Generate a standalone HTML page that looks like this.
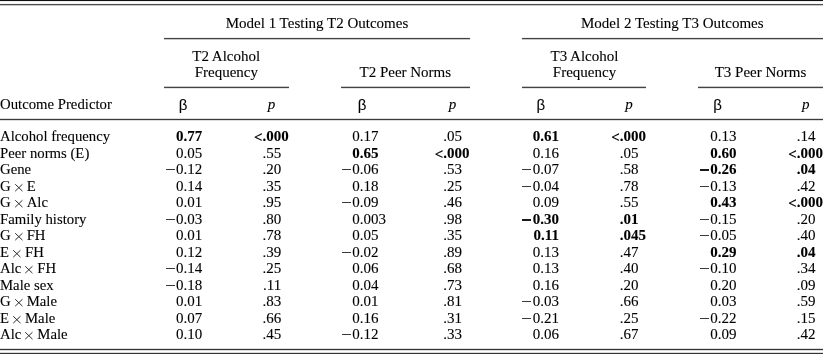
<!DOCTYPE html>
<html><head><meta charset="utf-8"><style>
html,body{margin:0;padding:0;background:#fff;}
#w{position:relative;will-change:transform;-webkit-text-stroke:0.1px #000;width:823px;height:354px;overflow:hidden;background:#fff;font-family:"Liberation Serif",serif;font-size:15px;color:#000;}
.t{position:absolute;white-space:nowrap;line-height:15px;font-size:14.75px;}
.r{position:absolute;white-space:nowrap;line-height:15px;text-align:right;}
.c{position:absolute;white-space:nowrap;line-height:15px;text-align:center;}
.b{font-weight:bold;}
.lt{position:relative;top:1px;}
.b .m{height:2px;vertical-align:3px;background:#1a1a1a;}
.s{font-family:"Liberation Sans",sans-serif;line-height:0;position:relative;top:0.6px;}
.m{display:inline-block;width:9px;height:1px;background:#3a3a3a;vertical-align:4px;margin-right:1.2px;}
.h{position:absolute;height:1px;background:#333;}
.x{display:inline-block;vertical-align:baseline;margin:0 4.4px 0 3.9px;overflow:visible;}
</style></head><body><div id="w">

<div class="h" style="top:1px;left:0px;width:823px;background:#eee"></div>
<div class="h" style="top:0px;left:0px;width:823px;background:#111"></div>
<div class="h" style="top:3px;left:0px;width:823px;background:#f4f4f4"></div>
<div class="h" style="top:5px;left:0px;width:823px;background:#c8c8c8"></div>
<div class="h" style="top:4px;left:0px;width:823px;background:#4d4d4d"></div>
<div class="h" style="top:37px;left:164px;width:306px;background:#eee"></div>
<div class="h" style="top:39px;left:164px;width:306px;background:#c8c8c8"></div>
<div class="h" style="top:38px;left:164px;width:306px;background:#444"></div>
<div class="h" style="top:37px;left:522px;width:301px;background:#eee"></div>
<div class="h" style="top:39px;left:522px;width:301px;background:#c8c8c8"></div>
<div class="h" style="top:38px;left:522px;width:301px;background:#444"></div>
<div class="h" style="top:86px;left:164px;width:125px;background:#c8c8c8"></div>
<div class="h" style="top:88px;left:164px;width:125px;background:#e4e4e4"></div>
<div class="h" style="top:87px;left:164px;width:125px;background:#444"></div>
<div class="h" style="top:86px;left:341px;width:129px;background:#c8c8c8"></div>
<div class="h" style="top:88px;left:341px;width:129px;background:#e4e4e4"></div>
<div class="h" style="top:87px;left:341px;width:129px;background:#444"></div>
<div class="h" style="top:86px;left:522px;width:124px;background:#c8c8c8"></div>
<div class="h" style="top:88px;left:522px;width:124px;background:#e4e4e4"></div>
<div class="h" style="top:87px;left:522px;width:124px;background:#444"></div>
<div class="h" style="top:86px;left:698px;width:125px;background:#c8c8c8"></div>
<div class="h" style="top:88px;left:698px;width:125px;background:#e4e4e4"></div>
<div class="h" style="top:87px;left:698px;width:125px;background:#444"></div>
<div class="h" style="top:118px;left:0px;width:823px;background:#dcdcdc"></div>
<div class="h" style="top:120px;left:0px;width:823px;background:#dcdcdc"></div>
<div class="h" style="top:119px;left:0px;width:823px;background:#3a3a3a"></div>
<div class="h" style="top:348px;left:0px;width:823px;background:#dcdcdc"></div>
<div class="h" style="top:350px;left:0px;width:823px;background:#dcdcdc"></div>
<div class="h" style="top:349px;left:0px;width:823px;background:#333"></div>
<div class="h" style="top:352px;left:0px;width:823px;background:#dcdcdc"></div>
<div class="h" style="top:353px;left:0px;width:823px;background:#333"></div>
<div class="c" style="left:167px;width:300px;top:16.00px">Model 1 Testing T2 Outcomes</div>
<div class="c" style="left:522.3px;width:300px;top:16.00px">Model 2 Testing T3 Outcomes</div>
<div class="c" style="left:76.19999999999999px;width:300px;top:49.00px">T2 Alcohol</div>
<div class="c" style="left:76.30000000000001px;width:300px;top:65.00px">Frequency</div>
<div class="c" style="left:255.3px;width:300px;top:65.00px">T2 Peer Norms</div>
<div class="c" style="left:434.5px;width:300px;top:49.00px">T3 Alcohol</div>
<div class="c" style="left:434.5px;width:300px;top:65.00px">Frequency</div>
<div class="c" style="left:610.5px;width:300px;top:65.00px">T3 Peer Norms</div>
<div class="t" style="left:0px;top:97.00px">Outcome Predictor</div>
<div class="c" style="left:33px;width:300px;top:97.00px"><span class="s">β</span></div>
<div class="c" style="left:121.60000000000002px;width:300px;top:97.00px"><i>p</i></div>
<div class="c" style="left:212px;width:300px;top:97.00px"><span class="s">β</span></div>
<div class="c" style="left:302.6px;width:300px;top:97.00px"><i>p</i></div>
<div class="c" style="left:390.79999999999995px;width:300px;top:97.00px"><span class="s">β</span></div>
<div class="c" style="left:478.9px;width:300px;top:97.00px"><i>p</i></div>
<div class="c" style="left:567.5px;width:300px;top:97.00px"><span class="s">β</span></div>
<div class="c" style="left:655.8px;width:300px;top:97.00px"><i>p</i></div>
<div class="t" style="left:0px;top:129.00px">Alcohol frequency</div>
<div class="r b" style="right:620.80px;top:129.00px">0.77</div>
<div class="r b" style="right:534.30px;top:129.00px"><span class="lt">&lt;</span>.000</div>
<div class="r" style="right:444.50px;top:129.00px">0.17</div>
<div class="r" style="right:361.00px;top:129.00px">.05</div>
<div class="r b" style="right:264.10px;top:129.00px">0.61</div>
<div class="r b" style="right:176.90px;top:129.00px"><span class="lt">&lt;</span>.000</div>
<div class="r" style="right:86.60px;top:129.00px">0.13</div>
<div class="r" style="right:7.50px;top:129.00px">.14</div>
<div class="t" style="left:0px;top:146.00px">Peer norms (E)</div>
<div class="r" style="right:620.80px;top:146.00px">0.05</div>
<div class="r" style="right:541.80px;top:146.00px">.55</div>
<div class="r b" style="right:444.50px;top:146.00px">0.65</div>
<div class="r b" style="right:353.50px;top:146.00px"><span class="lt">&lt;</span>.000</div>
<div class="r" style="right:264.10px;top:146.00px">0.16</div>
<div class="r" style="right:184.40px;top:146.00px">.05</div>
<div class="r b" style="right:86.60px;top:146.00px">0.60</div>
<div class="r b" style="right:0.00px;top:146.00px"><span class="lt">&lt;</span>.000</div>
<div class="t" style="left:0px;top:162.00px">Gene</div>
<div class="r" style="right:620.80px;top:162.00px"><span class="m"></span>0.12</div>
<div class="r" style="right:541.80px;top:162.00px">.20</div>
<div class="r" style="right:444.50px;top:162.00px"><span class="m"></span>0.06</div>
<div class="r" style="right:361.00px;top:162.00px">.53</div>
<div class="r" style="right:264.10px;top:162.00px"><span class="m"></span>0.07</div>
<div class="r" style="right:184.40px;top:162.00px">.58</div>
<div class="r b" style="right:86.60px;top:162.00px"><span class="m"></span>0.26</div>
<div class="r b" style="right:7.50px;top:162.00px">.04</div>
<div class="t" style="left:0px;top:179.00px">G<svg class="x" width="7.7" height="7.4" viewBox="0 0 7.7 7.4"><path d="M0.5 0.5L7.2 6.9M7.2 0.5L0.5 6.9" stroke="#222" stroke-width="0.95" stroke-linecap="round" fill="none"/></svg>E</div>
<div class="r" style="right:620.80px;top:179.00px">0.14</div>
<div class="r" style="right:541.80px;top:179.00px">.35</div>
<div class="r" style="right:444.50px;top:179.00px">0.18</div>
<div class="r" style="right:361.00px;top:179.00px">.25</div>
<div class="r" style="right:264.10px;top:179.00px"><span class="m"></span>0.04</div>
<div class="r" style="right:184.40px;top:179.00px">.78</div>
<div class="r" style="right:86.60px;top:179.00px"><span class="m"></span>0.13</div>
<div class="r" style="right:7.50px;top:179.00px">.42</div>
<div class="t" style="left:0px;top:195.00px">G<svg class="x" width="7.7" height="7.4" viewBox="0 0 7.7 7.4"><path d="M0.5 0.5L7.2 6.9M7.2 0.5L0.5 6.9" stroke="#222" stroke-width="0.95" stroke-linecap="round" fill="none"/></svg>Alc</div>
<div class="r" style="right:620.80px;top:195.00px">0.01</div>
<div class="r" style="right:541.80px;top:195.00px">.95</div>
<div class="r" style="right:444.50px;top:195.00px"><span class="m"></span>0.09</div>
<div class="r" style="right:361.00px;top:195.00px">.46</div>
<div class="r" style="right:264.10px;top:195.00px">0.09</div>
<div class="r" style="right:184.40px;top:195.00px">.55</div>
<div class="r b" style="right:86.60px;top:195.00px">0.43</div>
<div class="r b" style="right:0.00px;top:195.00px"><span class="lt">&lt;</span>.000</div>
<div class="t" style="left:0px;top:212.00px">Family history</div>
<div class="r" style="right:620.80px;top:212.00px"><span class="m"></span>0.03</div>
<div class="r" style="right:541.80px;top:212.00px">.80</div>
<div class="r" style="right:437.00px;top:212.00px">0.003</div>
<div class="r" style="right:361.00px;top:212.00px">.98</div>
<div class="r b" style="right:264.10px;top:212.00px"><span class="m"></span>0.30</div>
<div class="r b" style="right:184.40px;top:212.00px">.01</div>
<div class="r" style="right:86.60px;top:212.00px"><span class="m"></span>0.15</div>
<div class="r" style="right:7.50px;top:212.00px">.20</div>
<div class="t" style="left:0px;top:228.00px">G<svg class="x" width="7.7" height="7.4" viewBox="0 0 7.7 7.4"><path d="M0.5 0.5L7.2 6.9M7.2 0.5L0.5 6.9" stroke="#222" stroke-width="0.95" stroke-linecap="round" fill="none"/></svg>FH</div>
<div class="r" style="right:620.80px;top:228.00px">0.01</div>
<div class="r" style="right:541.80px;top:228.00px">.78</div>
<div class="r" style="right:444.50px;top:228.00px">0.05</div>
<div class="r" style="right:361.00px;top:228.00px">.35</div>
<div class="r b" style="right:264.10px;top:228.00px">0.11</div>
<div class="r b" style="right:176.90px;top:228.00px">.045</div>
<div class="r" style="right:86.60px;top:228.00px"><span class="m"></span>0.05</div>
<div class="r" style="right:7.50px;top:228.00px">.40</div>
<div class="t" style="left:0px;top:245.00px">E<svg class="x" width="7.7" height="7.4" viewBox="0 0 7.7 7.4"><path d="M0.5 0.5L7.2 6.9M7.2 0.5L0.5 6.9" stroke="#222" stroke-width="0.95" stroke-linecap="round" fill="none"/></svg>FH</div>
<div class="r" style="right:620.80px;top:245.00px">0.12</div>
<div class="r" style="right:541.80px;top:245.00px">.39</div>
<div class="r" style="right:444.50px;top:245.00px"><span class="m"></span>0.02</div>
<div class="r" style="right:361.00px;top:245.00px">.89</div>
<div class="r" style="right:264.10px;top:245.00px">0.13</div>
<div class="r" style="right:184.40px;top:245.00px">.47</div>
<div class="r b" style="right:86.60px;top:245.00px">0.29</div>
<div class="r b" style="right:7.50px;top:245.00px">.04</div>
<div class="t" style="left:0px;top:261.00px">Alc<svg class="x" width="7.7" height="7.4" viewBox="0 0 7.7 7.4"><path d="M0.5 0.5L7.2 6.9M7.2 0.5L0.5 6.9" stroke="#222" stroke-width="0.95" stroke-linecap="round" fill="none"/></svg>FH</div>
<div class="r" style="right:620.80px;top:261.00px"><span class="m"></span>0.14</div>
<div class="r" style="right:541.80px;top:261.00px">.25</div>
<div class="r" style="right:444.50px;top:261.00px">0.06</div>
<div class="r" style="right:361.00px;top:261.00px">.68</div>
<div class="r" style="right:264.10px;top:261.00px">0.13</div>
<div class="r" style="right:184.40px;top:261.00px">.40</div>
<div class="r" style="right:86.60px;top:261.00px"><span class="m"></span>0.10</div>
<div class="r" style="right:7.50px;top:261.00px">.34</div>
<div class="t" style="left:0px;top:278.00px">Male sex</div>
<div class="r" style="right:620.80px;top:278.00px"><span class="m"></span>0.18</div>
<div class="r" style="right:541.80px;top:278.00px">.11</div>
<div class="r" style="right:444.50px;top:278.00px">0.04</div>
<div class="r" style="right:361.00px;top:278.00px">.73</div>
<div class="r" style="right:264.10px;top:278.00px">0.16</div>
<div class="r" style="right:184.40px;top:278.00px">.20</div>
<div class="r" style="right:86.60px;top:278.00px">0.20</div>
<div class="r" style="right:7.50px;top:278.00px">.09</div>
<div class="t" style="left:0px;top:294.00px">G<svg class="x" width="7.7" height="7.4" viewBox="0 0 7.7 7.4"><path d="M0.5 0.5L7.2 6.9M7.2 0.5L0.5 6.9" stroke="#222" stroke-width="0.95" stroke-linecap="round" fill="none"/></svg>Male</div>
<div class="r" style="right:620.80px;top:294.00px">0.01</div>
<div class="r" style="right:541.80px;top:294.00px">.83</div>
<div class="r" style="right:444.50px;top:294.00px">0.01</div>
<div class="r" style="right:361.00px;top:294.00px">.81</div>
<div class="r" style="right:264.10px;top:294.00px"><span class="m"></span>0.03</div>
<div class="r" style="right:184.40px;top:294.00px">.66</div>
<div class="r" style="right:86.60px;top:294.00px">0.03</div>
<div class="r" style="right:7.50px;top:294.00px">.59</div>
<div class="t" style="left:0px;top:311.00px">E<svg class="x" width="7.7" height="7.4" viewBox="0 0 7.7 7.4"><path d="M0.5 0.5L7.2 6.9M7.2 0.5L0.5 6.9" stroke="#222" stroke-width="0.95" stroke-linecap="round" fill="none"/></svg>Male</div>
<div class="r" style="right:620.80px;top:311.00px">0.07</div>
<div class="r" style="right:541.80px;top:311.00px">.66</div>
<div class="r" style="right:444.50px;top:311.00px">0.16</div>
<div class="r" style="right:361.00px;top:311.00px">.31</div>
<div class="r" style="right:264.10px;top:311.00px"><span class="m"></span>0.21</div>
<div class="r" style="right:184.40px;top:311.00px">.25</div>
<div class="r" style="right:86.60px;top:311.00px"><span class="m"></span>0.22</div>
<div class="r" style="right:7.50px;top:311.00px">.15</div>
<div class="t" style="left:0px;top:327.00px">Alc<svg class="x" width="7.7" height="7.4" viewBox="0 0 7.7 7.4"><path d="M0.5 0.5L7.2 6.9M7.2 0.5L0.5 6.9" stroke="#222" stroke-width="0.95" stroke-linecap="round" fill="none"/></svg>Male</div>
<div class="r" style="right:620.80px;top:327.00px">0.10</div>
<div class="r" style="right:541.80px;top:327.00px">.45</div>
<div class="r" style="right:444.50px;top:327.00px"><span class="m"></span>0.12</div>
<div class="r" style="right:361.00px;top:327.00px">.33</div>
<div class="r" style="right:264.10px;top:327.00px">0.06</div>
<div class="r" style="right:184.40px;top:327.00px">.67</div>
<div class="r" style="right:86.60px;top:327.00px">0.09</div>
<div class="r" style="right:7.50px;top:327.00px">.42</div>
</div></body></html>
